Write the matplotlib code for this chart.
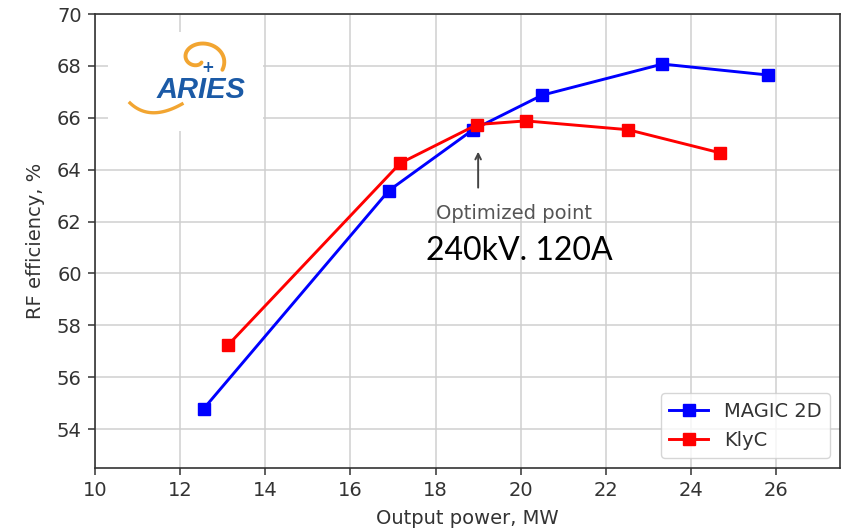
import numpy as np
import matplotlib
matplotlib.use('Agg')
import matplotlib.pyplot as plt
from matplotlib.patches import Rectangle

# data
magic_x = [12.55, 16.9, 18.88, 20.5, 23.33, 25.8]
magic_y = [54.78, 63.19, 65.54, 66.87, 68.07, 67.65]
klyc_x = [13.12, 17.17, 18.98, 20.12, 22.52, 24.68]
klyc_y = [57.23, 64.25, 65.74, 65.88, 65.54, 64.65]

opt_x, opt_y = 19.0, 64.8

W, H = 841, 530
fs = 14
fig = plt.figure(figsize=(W / 100, H / 100), dpi=100)
ax = fig.add_axes([95 / W, 1 - 468 / H, (840 - 95) / W, (468 - 14) / H])

ax.plot(magic_x, magic_y, 'b-s', lw=2.1, ms=8, label='MAGIC 2D', zorder=3)
ax.plot(klyc_x, klyc_y, 'r-s', lw=2.1, ms=8, label='KlyC', zorder=3)

ax.set_xlim(10, 27.5)
ax.set_ylim(52.5, 70)
ax.set_xticks(np.arange(10, 27, 2))
ax.set_yticks(np.arange(54, 71, 2))
ax.grid(True, color='#cfcfcf', lw=1.1)
ax.set_axisbelow(True)
ax.tick_params(labelsize=fs, colors='#333333', length=5, width=1.1, pad=4.5)
for s in ax.spines.values():
    s.set_linewidth(1.2)
    s.set_color('#333333')

ax.set_xlabel('Output power, MW', fontsize=fs, color='#333333')
ax.set_ylabel('RF efficiency, %', fontsize=fs, color='#333333')
ax.xaxis.set_label_coords(0.5, -0.09)
ax.yaxis.set_label_coords(-0.067, 0.5)

# annotation
ax.annotate('', xy=(opt_x, opt_y), xytext=(opt_x, 63.2),
            arrowprops=dict(arrowstyle='->', color='#444444', lw=1.4))
ax.text(19.85, 62.3, 'Optimized point', fontsize=fs, color='#555555',
        ha='center', va='center')
ax.text(19.97, 60.88, '240kV. 120A', fontsize=23, color='black',
        ha='center', va='center', family=['Lato', 'DejaVu Sans'])

leg = ax.legend(loc='lower right', fontsize=fs, framealpha=0.8,
                borderpad=0.45, handlelength=2.0, edgecolor='#cccccc')
for t in leg.get_texts():
    t.set_color('#333333')

# ARIES logo (figure pixel coordinates)
def px(x, y):
    return x / W, 1 - y / H

fig.patches.append(Rectangle(px(108, 131), 155 / W, 99 / H, transform=fig.transFigure,
                             facecolor='white', edgecolor='none', zorder=2))
orange = '#f2a531'
blue = '#1b5aa6'
th = np.radians(np.linspace(-30, 300, 200))
r = 27 - 22 * (th - th[0]) / (th[-1] - th[0])
sx = 199 + r * np.cos(th)
sy = 59 - r * np.sin(th) * 0.8
fig.lines.append(plt.Line2D(sx / W, 1 - sy / H, transform=fig.transFigure,
                            color=orange, lw=2.8, solid_capstyle='round', zorder=3))
t = np.linspace(0, 1, 100)
p0, p1, p2 = np.array([130, 103]), np.array([150, 122]), np.array([182, 104])
sw = np.outer((1 - t) ** 2, p0) + np.outer(2 * t * (1 - t), p1) + np.outer(t ** 2, p2)
fig.lines.append(plt.Line2D(sw[:, 0] / W, 1 - sw[:, 1] / H, transform=fig.transFigure,
                            color=orange, lw=2.4, zorder=3))
fig.text(*px(208, 67), '+', color=blue, fontsize=11, fontweight='bold',
         ha='center', va='center', zorder=4)
fig.text(*px(201, 90), 'ARIES', color=blue, fontsize=21, fontstyle='italic',
         fontweight='bold', ha='center', va='center', family='Liberation Sans', zorder=4)

fig.savefig('out.png', dpi=100)
